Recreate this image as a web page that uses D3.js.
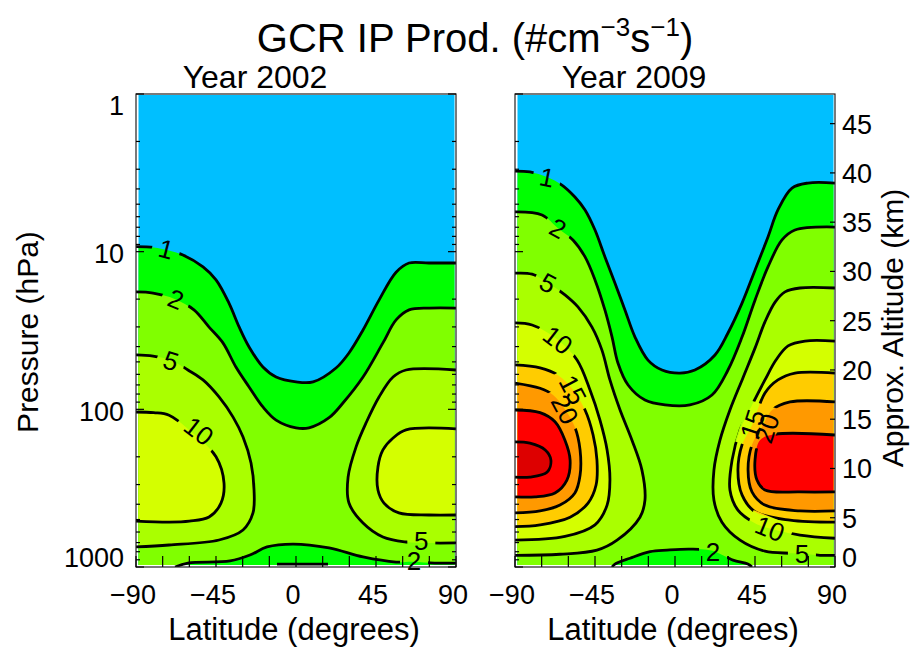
<!DOCTYPE html>
<html>
<head>
<meta charset="utf-8">
<script src="https://cdn.jsdelivr.net/npm/d3@7"></script>
<style>
  body { margin: 0; background: #fff; }
  text { font-family: "Liberation Sans", Arial, sans-serif; fill: #000; }
</style>
</head>
<body>
<svg id="chart" width="912" height="647"></svg>
<script>
// ---- chart values (latitude in degrees, pressure in hPa) ----
var latTicks = [-90, -45, 0, 45, 90];
var latMinorTicks = [-90, -75, -60, -45, -30, -15, 0, 15, 30, 45, 60, 75, 90];
var pressureTicks = [1, 10, 100, 1000];
var pressureMinor = [2, 3, 4, 5, 6, 7, 8, 9, 20, 30, 40, 50, 60, 70, 80, 90, 200, 300, 400, 500, 600, 700, 800, 900];
var altitudeTicks = [0, 5, 10, 15, 20, 25, 30, 35, 40, 45];
var scaleHeight = 6.95; // km, for the approximate altitude axis

var levels = [1, 2, 5, 10, 15, 20, 25, 30];
var bandColors = ["#00bfff", "#00ff00", "#80ff00", "#aaff00", "#d4ff00", "#ffcc00", "#ff9900", "#ff0000", "#dd0000"];

// contour lines, Year 2002
var c02_1 = [[-90,9.3],[-80,9.4],[-72,9.8],[-63.6,10.5],[-52.3,12.5],[-45,15.1],[-37.7,21.2],[-32,30],[-26.4,40.2],[-18.6,53.9],[-11.2,62.4],[0,67],[9.6,67],[22.5,54.7],[29.8,43.9],[37.7,31.4],[46.7,20.3],[56.3,13.5],[63.6,11.8],[74.8,11.8],[90,11.8]];
var c02_2 = [[-90,18],[-80.4,18.3],[-68,20],[-57.4,23.4],[-48.9,30.1],[-41.1,37.9],[-33.8,53.9],[-26.4,72.1],[-18.6,96.6],[-11.2,117],[0,131],[7.3,131],[18.6,113],[26.4,91.2],[37.7,62.4],[48.9,37.9],[56.3,27.1],[63.6,23.4],[75,22.8],[90,22.8]];
var c02_2low = [[-68,1000],[-60.8,944],[-37.1,916],[-25.9,840],[-16.3,746],[-1.7,715],[18.6,757],[37.7,864],[56.3,930],[66,925],[78,944],[90,944]];
var c02_5s = [[-90,45.2],[-80.4,45.9],[-70,49],[-60.8,56.3],[-52.3,65.1],[-43.3,83.5],[-35.4,112],[-29.8,150],[-25.3,219],[-23.6,325],[-24.2,454],[-29.8,582],[-43.3,674],[-71.4,725],[-90,746]];
var c02_10s = [[-90,104],[-80,105],[-71.4,109],[-58.5,140],[-45,200],[-40.5,293],[-42.2,393],[-48.9,482],[-60,512],[-71.4,519],[-90,511]];
var c02_5n = [[90,56.3],[61.9,56.3],[54.6,62.4],[46.7,83.5],[39.4,122],[33.8,173],[29.3,269],[29.8,393],[37.7,526],[48.9,645],[61.9,694],[75,704],[90,704]];
var c02_10n = [[90,133],[61.9,135],[54.6,152],[48.9,181],[46.1,232],[46.1,325],[49.5,393],[57.9,454],[74.8,468],[90,468]];
var c02_surface = [[-10.7,958],[18,958]];

// contour lines, Year 2009
var c09_1 = [[-90,3.08],[-81.6,3.12],[-72,3.36],[-63.6,3.78],[-56.3,4.5],[-50.6,5.44],[-45,7.29],[-39.4,10.8],[-33.8,15.8],[-28.1,23.5],[-22.5,34.8],[-15.2,48.7],[-7.3,56.3],[2.8,58.9],[11.2,56.3],[22.5,45.2],[29.8,32.8],[37.7,21.2],[45,13.1],[52.3,8.07],[57.9,5.44],[65.8,3.95],[74.8,3.67],[90,3.67]];
var c09_2 = [[-90,5.6],[-74.8,5.85],[-65.8,7.1],[-57.4,8.43],[-50.6,10.8],[-45,15.1],[-39.4,23.5],[-35.4,34.8],[-32.1,50.8],[-26.4,70.1],[-16.9,87.3],[-5.6,93.8],[8.4,93.8],[20.8,81.1],[29.8,56.3],[37.7,34.8],[45,20.3],[52.3,12.5],[60.2,8.43],[67.5,7.29],[90,6.98]];
var c09_2low = [[-35.4,1000],[-33.8,958],[-25.3,880],[-14,800],[-4.5,782],[8.4,770],[21,790],[32.6,905],[41,958],[43.3,1000]];
var c09_5s = [[-90,13.7],[-80.4,13.9],[-71.4,15.8],[-61.9,18.8],[-54.6,22.4],[-46.7,30.1],[-41.1,42.1],[-36.6,65.1],[-30.9,101],[-24.2,157],[-18.6,243],[-16.9,377],[-19.7,483],[-32.6,676],[-43.9,782],[-64.7,830],[-90,843]];
var c09_10s = [[-90,28.3],[-80.4,29.2],[-65.8,36.3],[-55.1,48.7],[-47.8,75.4],[-42.2,117],[-38.2,181],[-36.6,281],[-38.2,405],[-45,540],[-61.9,640],[-90,676]];
var c09_15s = [[-90,52.3],[-75.9,54.6],[-65.8,60.8],[-57.4,75],[-50.6,101],[-46.1,145],[-43.9,210],[-44.4,302],[-48.9,393],[-59,483],[-75.9,540],[-90,555]];
var c09_20s = [[-90,68.1],[-75.9,73.5],[-68.6,81.1],[-61.9,100],[-56.3,130],[-53.4,181],[-53.4,262],[-56.3,339],[-64.7,405],[-75.9,441],[-90,454]];
var c09_25s = [[-90,101],[-75.9,105],[-67.5,120],[-61.9,157],[-59,210],[-60.8,281],[-67.5,339],[-78.8,359],[-90,359]];
var c09_30s = [[-90,161],[-81.6,164],[-73,181],[-69.8,210],[-72,251],[-81.6,269],[-90,269]];
var c09_5n = [[90,17],[70.3,17],[61.9,18],[56.3,20.9],[50.6,27.9],[45,40.9],[38.2,63.2],[30.9,101],[25.3,157],[21.9,243],[21.9,377],[26.4,520],[36.6,676],[50.6,794],[64.7,818],[71.4,825],[81.6,843],[90,843]];
var c09_10n = [[90,36.9],[73.1,36.9],[63.6,39.6],[56.8,48.7],[50.6,65.1],[43.3,94.1],[36.6,135],[32.1,210],[30.9,325],[35.4,436],[45,527],[53.4,570],[70.3,627],[90,657]];
var c09_15n = [[90,58.9],[67.5,58.9],[57.9,65.1],[50.6,78.8],[43.3,126],[37.7,168],[35.4,243],[37.7,349],[45,446],[64.7,505],[90,520]];
var c09_20n = [[90,89.8],[64.7,89.8],[54.6,101],[48.9,130],[43.3,168],[41.1,243],[43.3,334],[50.6,405],[70.3,441],[90,441]];
var c09_25n = [[90,145.5],[56.3,144],[47.8,157],[45,210],[46.1,281],[50.6,325],[70.3,334],[90,334]];

// contour labels: text, lat, hPa, tilt
var labels02 = [["1",-73,9.6,15],["2",-67.5,20,22],["5",-70.3,49,18],["10",-54.6,137,38],["5",70.5,676,0],["2",66.4,905,0]];
var labels09 = [["1",-72,3.36,12],["2",-65.8,7.1,28],["5",-71.4,15.8,28],["10",-65.8,36.3,38],["15",-57.4,75,62],["20",-61.9,100,62],["15",43.5,124,-72],["20",51.5,132,-72],["10",53.4,570,22],["5",71.4,818,0],["2",21.4,800,0]];

var panels = [
  { title: "Year 2002", x0: 136,
    contours: [
      { level: 1, pts: c02_1, close: ["SE", "SW"] },
      { level: 2, pts: c02_2, close: ["SE", "SW"] },
      { level: 2, pts: c02_2low, close: ["SE"], below: true },
      { level: 5, pts: c02_5s, close: [] },
      { level: 5, pts: c02_5n, close: [] },
      { level: 10, pts: c02_10s, close: [] },
      { level: 10, pts: c02_10n, close: [] }
    ],
    extraLines: [c02_surface],
    labels: labels02 },
  { title: "Year 2009", x0: 515,
    contours: [
      { level: 1, pts: c09_1, close: ["SE", "SW"] },
      { level: 2, pts: c09_2, close: ["SE", "SW"] },
      { level: 2, pts: c09_2low, close: [], below: true },
      { level: 5, pts: c09_5s, close: [] },
      { level: 5, pts: c09_5n, close: [] },
      { level: 10, pts: c09_10s, close: [] },
      { level: 10, pts: c09_10n, close: [] },
      { level: 15, pts: c09_15s, close: [] },
      { level: 15, pts: c09_15n, close: [] },
      { level: 20, pts: c09_20s, close: [] },
      { level: 20, pts: c09_20n, close: [] },
      { level: 25, pts: c09_25s, close: [] },
      { level: 25, pts: c09_25n, close: [] },
      { level: 30, pts: c09_30s, close: [] }
    ],
    extraLines: [],
    labels: labels09 }
];

// ---- layout ----
var panelWidth = 320, plotTop = 94, plotBottom = 567;
var svg = d3.select("#chart");

var y = d3.scaleLog().domain([1, 1000]).range([plotTop, plotBottom]);
var z = d3.scaleLinear().domain([0, scaleHeight * Math.log(1000)]).range([plotBottom, plotTop]);

function minusFmt(v) { return v < 0 ? "\u2212" + (-v) : String(v); }

svg.append("text").attr("x", 475).attr("y", 52).attr("text-anchor", "middle")
  .style("font-size", "40px")
  .call(function (t) {
    t.append("tspan").text("GCR IP Prod. (#cm");
    t.append("tspan").attr("dy", -16).style("font-size", "26px").text("\u22123");
    t.append("tspan").attr("dy", 16).text("s");
    t.append("tspan").attr("dy", -16).style("font-size", "26px").text("\u22121");
    t.append("tspan").attr("dy", 16).text(")");
  });

panels.forEach(function (p, pi) {
  var x = d3.scaleLinear().domain([-90, 90]).range([p.x0, p.x0 + panelWidth]);
  var line = d3.line().x(function (d) { return x(d[0]); }).y(function (d) { return y(d[1]); })
    .curve(d3.curveCatmullRom.alpha(0.5));
  var corners = {
    SE: [x.domain()[1], y.domain()[1]], SW: [x.domain()[0], y.domain()[1]],
    NE: [x.domain()[1], y.domain()[0]], NW: [x.domain()[0], y.domain()[0]]
  };

  var g = svg.append("g");
  var defs = g.append("defs");
  defs.append("clipPath").attr("id", "fillclip" + pi).append("rect")
    .attr("x", p.x0 + 2.5).attr("y", plotTop + 1).attr("width", panelWidth - 4).attr("height", plotBottom - plotTop - 3);
  defs.append("clipPath").attr("id", "lineclip" + pi).append("rect")
    .attr("x", p.x0).attr("y", plotTop).attr("width", panelWidth).attr("height", plotBottom - plotTop);

  // filled bands, lowest level first
  var fills = g.append("g").attr("clip-path", "url(#fillclip" + pi + ")");
  fills.append("rect").attr("x", p.x0).attr("y", plotTop).attr("width", panelWidth).attr("height", plotBottom - plotTop)
    .attr("fill", bandColors[0]);
  var order = p.contours.slice().sort(function (a, b) {
    return a.level - b.level || (a.below ? 1 : 0) - (b.below ? 1 : 0);
  });
  fills.selectAll("path.band").data(order).join("path").attr("class", "band")
    .attr("d", function (c) {
      return line(c.pts) + c.close.map(function (k) {
        return "L" + x(corners[k][0]) + "," + y(corners[k][1]);
      }).join("") + "Z";
    })
    .attr("fill", function (c) {
      var i = levels.indexOf(c.level);
      return c.below ? bandColors[i] : bandColors[i + 1];
    });

  // gaps in the lines under the labels
  var mask = defs.append("mask").attr("id", "labelmask" + pi).attr("maskUnits", "userSpaceOnUse")
    .attr("x", 0).attr("y", 0).attr("width", 912).attr("height", 647);
  mask.append("rect").attr("width", 912).attr("height", 647).attr("fill", "#fff");
  mask.selectAll("rect.gap").data(p.labels).join("rect").attr("class", "gap")
    .attr("x", function (d) { return -(d[0].length * 8 + 6); })
    .attr("y", -11)
    .attr("width", function (d) { return 2 * (d[0].length * 8 + 6); })
    .attr("height", 22)
    .attr("fill", "#000")
    .attr("transform", function (d) { return "translate(" + x(d[1]) + "," + y(d[2]) + ") rotate(" + d[3] + ")"; });

  var lines = g.append("g").attr("clip-path", "url(#lineclip" + pi + ")")
    .append("g").attr("mask", "url(#labelmask" + pi + ")");
  lines.selectAll("path.iso").data(p.contours.map(function (c) { return c.pts; }).concat(p.extraLines))
    .join("path").attr("class", "iso")
    .attr("d", line).attr("fill", "none").attr("stroke", "#000").attr("stroke-width", 2.8)
    .attr("stroke-linejoin", "round");

  g.selectAll("text.clabel").data(p.labels).join("text").attr("class", "clabel")
    .attr("transform", function (d) { return "translate(" + x(d[1]) + "," + y(d[2]) + ") rotate(" + d[3] + ")"; })
    .attr("text-anchor", "middle").attr("dy", "0.36em")
    .style("font-size", "26px")
    .text(function (d) { return d[0]; });

  // frame and inward ticks
  g.append("rect").attr("x", p.x0).attr("y", plotTop).attr("width", panelWidth).attr("height", plotBottom - plotTop)
    .attr("fill", "none").attr("stroke", "#222").attr("stroke-width", 1.2);

  var ticks = g.append("g").attr("stroke", "#000").attr("stroke-width", 1.2);
  ticks.selectAll("line.xt").data(latMinorTicks).join("line").attr("class", "xt")
    .attr("x1", x).attr("x2", x).attr("y1", plotBottom).attr("y2", plotBottom - 11);
  [p.x0, p.x0 + panelWidth].forEach(function (edge, side) {
    if (pi === 1 && side === 1) return;
    var dir = side === 0 ? 1 : -1;
    ticks.append("g").selectAll("line").data(pressureMinor).join("line")
      .attr("x1", edge).attr("x2", edge + dir * 4).attr("y1", y).attr("y2", y);
    ticks.append("g").selectAll("line").data(pressureTicks).join("line")
      .attr("x1", edge).attr("x2", edge + dir * 8).attr("y1", y).attr("y2", y);
  });
  if (pi === 1) {
    ticks.append("g").selectAll("line").data(altitudeTicks).join("line")
      .attr("x1", p.x0 + panelWidth).attr("x2", p.x0 + panelWidth - 5).attr("y1", z).attr("y2", z);
  }

  g.selectAll("text.xlab").data(latTicks).join("text").attr("class", "xlab")
    .attr("x", function (d) { return x(d) - 3; }).attr("y", 604)
    .attr("text-anchor", "middle").style("font-size", "27px")
    .text(minusFmt);

  g.append("text").attr("x", p.x0 + panelWidth / 2 - 2).attr("y", 640).attr("text-anchor", "middle")
    .style("font-size", "31px").text("Latitude (degrees)");
  g.append("text").attr("x", p.x0 + panelWidth / 2 - 41).attr("y", 88).attr("text-anchor", "middle")
    .style("font-size", "32px").text(p.title);
});

// left pressure axis labels
svg.selectAll("text.ylab").data(pressureTicks).join("text").attr("class", "ylab")
  .attr("x", 124)
  .attr("y", function (d) { return Math.min(Math.max(y(d) + 11.6, plotTop + 21), plotBottom); })
  .attr("text-anchor", "end").style("font-size", "27px")
  .text(function (d) { return d; });
svg.append("text").attr("transform", "translate(38,332) rotate(-90)").attr("text-anchor", "middle")
  .style("font-size", "30px").text("Pressure (hPa)");

// right altitude axis labels
svg.selectAll("text.zlab").data(altitudeTicks).join("text").attr("class", "zlab")
  .attr("x", 842)
  .attr("y", function (d) { return Math.min(z(d) + 10, plotBottom); })
  .style("font-size", "27px")
  .text(function (d) { return d; });
svg.append("text").attr("transform", "translate(903,328) rotate(-90)").attr("text-anchor", "middle")
  .style("font-size", "30px").text("Approx. Altitude (km)");
</script>
</body>
</html>
